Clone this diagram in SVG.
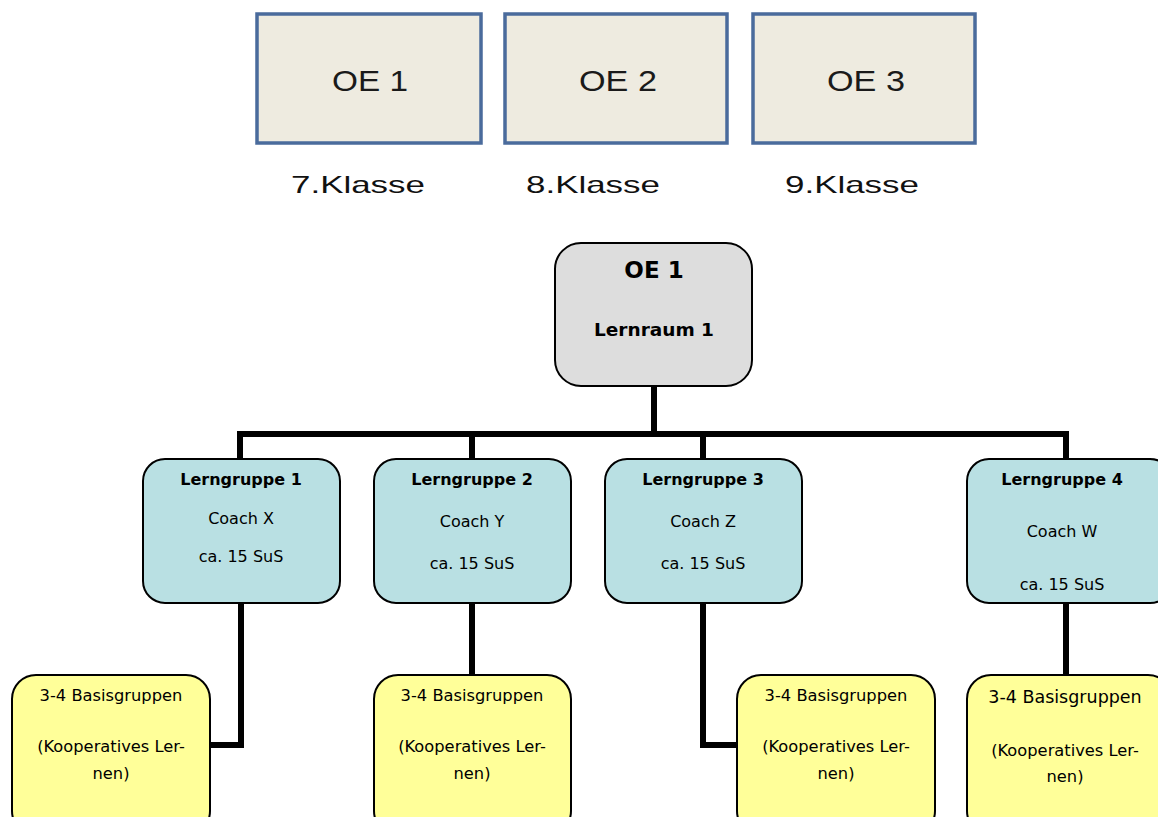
<svg xmlns="http://www.w3.org/2000/svg" width="1158" height="817" viewBox="0 0 1158 817">
<style>
.oe{fill:#eeebe0;stroke:#4a6b9c;stroke-width:3.5}
.oet{font-family:"Liberation Sans",Arial,sans-serif;font-size:29px;fill:#1a1a1a;text-anchor:middle}
.kl{font-family:"Liberation Sans",Arial,sans-serif;font-size:24px;fill:#111;text-anchor:middle}
.main{fill:#dddddd;stroke:#000;stroke-width:2}
.lg{fill:#b9e0e3;stroke:#000;stroke-width:2}
.bg{fill:#ffff99;stroke:#000;stroke-width:2}
.t{font-family:"DejaVu Sans",Verdana,sans-serif;font-size:16px;fill:#000;text-anchor:middle}
.s{font-size:16.3px}
.b{font-weight:bold}
.c{fill:none;stroke:#000;stroke-width:6;stroke-linejoin:miter}
</style>
<g id="top-oe1"><rect class="oe" x="257" y="14" width="224" height="129"/><text class="oet" x="370" y="91" textLength="76" lengthAdjust="spacingAndGlyphs">OE 1</text><text class="kl" x="358" y="193" textLength="134" lengthAdjust="spacingAndGlyphs">7.Klasse</text></g>
<g id="top-oe2"><rect class="oe" x="505" y="14" width="222" height="129"/><text class="oet" x="618" y="91" textLength="78" lengthAdjust="spacingAndGlyphs">OE 2</text><text class="kl" x="593" y="193" textLength="134" lengthAdjust="spacingAndGlyphs">8.Klasse</text></g>
<g id="top-oe3"><rect class="oe" x="753" y="14" width="222" height="129"/><text class="oet" x="866" y="91" textLength="78" lengthAdjust="spacingAndGlyphs">OE 3</text><text class="kl" x="852" y="193" textLength="134" lengthAdjust="spacingAndGlyphs">9.Klasse</text></g>
<g id="connectors">
<path class="c" d="M654 386V434M240 460V434H1066V460M472 434V460M703 434V460"/>
<path class="c" d="M241 603V745H210"/>
<path class="c" d="M472 603V675"/>
<path class="c" d="M703 603V745H737"/>
<path class="c" d="M1066 603V675"/>
</g>
<g id="oe1-main"><rect class="main" x="555" y="243" width="197" height="143" rx="26"/><text class="t b" x="654" y="278" style="font-size:23px">OE 1</text><text class="t b" x="654" y="336" style="font-size:18.5px">Lernraum 1</text></g>
<g id="lg1"><rect class="lg" x="143" y="459" width="197" height="144" rx="22"/><text class="t b" x="241" y="485">Lerngruppe 1</text><text class="t" x="241" y="524">Coach X</text><text class="t" x="241" y="562">ca. 15 SuS</text></g>
<g id="lg2"><rect class="lg" x="374" y="459" width="197" height="144" rx="22"/><text class="t b" x="472" y="485">Lerngruppe 2</text><text class="t" x="472" y="527">Coach Y</text><text class="t" x="472" y="569">ca. 15 SuS</text></g>
<g id="lg3"><rect class="lg" x="605" y="459" width="197" height="144" rx="22"/><text class="t b" x="703" y="485">Lerngruppe 3</text><text class="t" x="703" y="527">Coach Z</text><text class="t" x="703" y="569">ca. 15 SuS</text></g>
<g id="lg4"><rect class="lg" x="967" y="459" width="205" height="144" rx="22"/><text class="t b" x="1062" y="485">Lerngruppe 4</text><text class="t" x="1062" y="537">Coach W</text><text class="t" x="1062" y="590">ca. 15 SuS</text></g>
<g id="bg1"><rect class="bg" x="12" y="675" width="198" height="160" rx="24"/><text class="t s" x="111" y="701">3-4 Basisgruppen</text><text class="t s" x="111" y="752">(Kooperatives Ler-</text><text class="t s" x="111" y="779">nen)</text></g>
<g id="bg2"><rect class="bg" x="374" y="675" width="197" height="160" rx="24"/><text class="t s" x="472" y="701">3-4 Basisgruppen</text><text class="t s" x="472" y="752">(Kooperatives Ler-</text><text class="t s" x="472" y="779">nen)</text></g>
<g id="bg3"><rect class="bg" x="737" y="675" width="198" height="160" rx="24"/><text class="t s" x="836" y="701">3-4 Basisgruppen</text><text class="t s" x="836" y="752">(Kooperatives Ler-</text><text class="t s" x="836" y="779">nen)</text></g>
<g id="bg4"><rect class="bg" x="967" y="675" width="205" height="160" rx="24"/><text class="t" x="1065" y="703" style="font-size:17.5px">3-4 Basisgruppen</text><text class="t s" x="1065" y="756">(Kooperatives Ler-</text><text class="t s" x="1065" y="782">nen)</text></g>
</svg>
